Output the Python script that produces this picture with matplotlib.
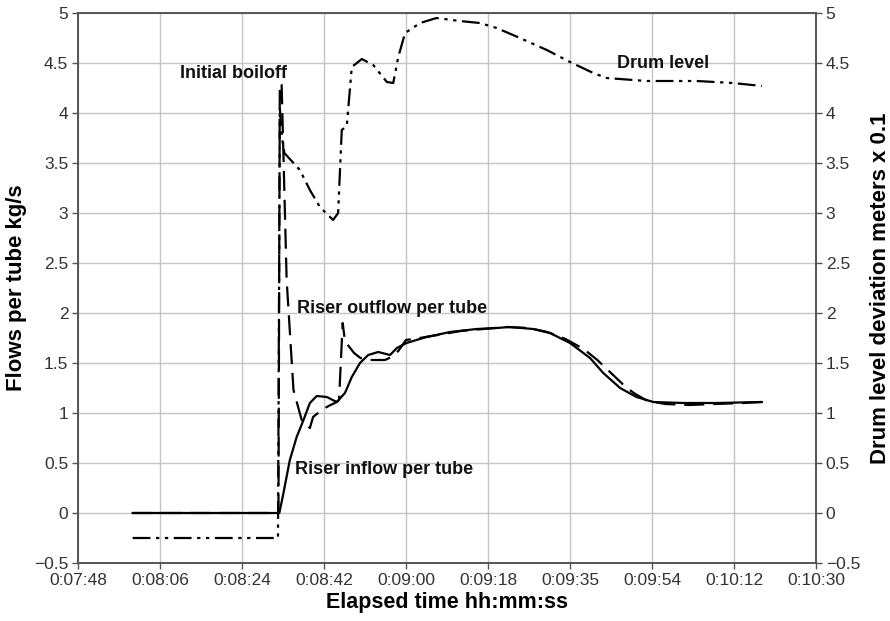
import matplotlib
matplotlib.use("Agg")
import matplotlib.pyplot as plt

plt.rcParams['font.family'] = ['Liberation Sans', 'DejaVu Sans']

# ---- data (elapsed time in seconds) ----
x_ticks = [468, 486, 504, 522, 540, 558, 576, 594, 612, 630]
x_tick_labels = ["0:07:48", "0:08:06", "0:08:24", "0:08:42", "0:09:00",
                 "0:09:18", "0:09:35", "0:09:54", "0:10:12", "0:10:30"]
y_ticks = [-0.5, 0, 0.5, 1, 1.5, 2, 2.5, 3, 3.5, 4, 4.5, 5]
y_tick_labels = ["\u22120.5", "0", "0.5", "1", "1.5", "2", "2.5", "3", "3.5", "4", "4.5", "5"]

inflow_t = [480, 512.2, 513.1, 514.5, 516.0, 517.5, 518.9, 520.4, 522.6, 524.8,
            526.6, 528.1, 529.9, 531.7, 533.9, 536.5, 538.0, 540.1, 544.5, 549.7,
            555.5, 559.9, 562.8, 567.9, 571.6, 576.0, 580.4, 583.3, 587.0, 590.6,
            594.3, 600.9, 608.2, 618.1]
inflow_v = [0, 0, 0.2, 0.53, 0.76, 0.93, 1.10, 1.17, 1.16, 1.11,
            1.20, 1.36, 1.50, 1.58, 1.61, 1.58, 1.65, 1.70, 1.76, 1.81,
            1.84, 1.85, 1.86, 1.84, 1.80, 1.70, 1.55, 1.40, 1.25, 1.16,
            1.11, 1.10, 1.10, 1.11]

outflow_t = [480, 512.0, 512.3, 512.7, 513.8, 515.3, 517.1, 518.9, 519.6, 521.5,
             523, 524.8, 525.3, 526.1, 526.6, 527.4, 528.6, 530.0, 531.7, 535.4,
             536.8, 538.3, 540.0, 543, 547, 552, 557, 562, 567, 571,
             575, 579, 582, 585, 588, 590, 593, 597, 602, 608, 614, 618]
outflow_v = [0, 0, 4.3, 4.28, 2.33, 1.23, 0.93, 0.85, 0.96, 1.03,
             1.07, 1.11, 1.13, 1.90, 1.72, 1.67, 1.60, 1.55, 1.53, 1.53,
             1.56, 1.62, 1.73, 1.75, 1.78, 1.82, 1.84, 1.86, 1.85, 1.81,
             1.74, 1.64, 1.53, 1.40, 1.27, 1.20, 1.12, 1.09, 1.08, 1.09, 1.10, 1.11]

drum_t = [480, 511.9, 512.3, 512.8, 513.3, 516.7, 518.9, 521.1, 524.0, 525.1,
          525.9, 527.0, 528.1, 530.3, 532.8, 535.8, 537.2, 538.3, 539.8, 543.1,
          546.7, 551.8, 556.2, 559.9, 565.0, 570.9, 576.0, 581.1, 584.0, 592.8,
          603.8, 611.8, 618.1]
drum_v = [-0.25, -0.25, 4.05, 3.75, 3.6, 3.43, 3.23, 3.06, 2.93, 3.0,
          3.83, 3.87, 4.46, 4.54, 4.48, 4.31, 4.30, 4.56, 4.8, 4.9,
          4.95, 4.92, 4.9, 4.85, 4.75, 4.63, 4.51, 4.40, 4.35, 4.32,
          4.32, 4.30, 4.27]

# ---- figure ----
fig = plt.figure(figsize=(8.9, 6.21), dpi=100)
ax = fig.add_axes([78/890, 1-563/621, (816-78)/890, (563-13)/621])
ax2 = ax.twinx()

spine_col = '#555555'
tick_col = '#333333'

ax.set_xlim(468, 630)
ax.set_ylim(-0.5, 5)
ax2.set_ylim(-0.5, 5)

ax.set_xticks(x_ticks)
ax.set_xticklabels(x_tick_labels)
ax.set_yticks(y_ticks)
ax.set_yticklabels(y_tick_labels)
ax2.set_yticks(y_ticks)
ax2.set_yticklabels(y_tick_labels)

ax.grid(True, color='#c4c4c4', linewidth=1.0)
ax.set_axisbelow(True)

for a in (ax, ax2):
    for s in a.spines.values():
        s.set_color(spine_col)
        s.set_linewidth(1.2)
    a.tick_params(axis='both', colors=spine_col, labelcolor=tick_col,
                  labelsize=12.5, length=4, width=1, direction='out', pad=3)

ax.plot(inflow_t, inflow_v, color='black', linewidth=1.6, linestyle='-', zorder=3)
ax.plot(outflow_t, outflow_v, color='black', linewidth=1.6,
        linestyle=(0, (9, 4)), zorder=3)
ax2.plot(drum_t, drum_v, color='black', linewidth=1.6,
         linestyle=(0, (8, 2.5, 1.5, 2.5, 1.5, 2.5)), zorder=3)

ax.set_xlabel("Elapsed time hh:mm:ss", fontsize=15.5, fontweight='bold', labelpad=3)
ax.set_ylabel("Flows per tube kg/s", fontsize=16, fontweight='bold', labelpad=5)
ax2.set_ylabel("Drum level deviation meters x 0.1", fontsize=16, fontweight='bold',
               rotation=90, labelpad=7)

tkw = dict(fontsize=13, fontweight='bold', color='#111111')
ax.text(513.9, 4.4, "Initial boiloff", ha='right', va='center', **tkw)
ax.text(586.3, 4.49, "Drum level", ha='left', va='center', **tkw)
ax.text(516.0, 2.05, "Riser outflow per tube", ha='left', va='center', **tkw)
ax.text(515.6, 0.43, "Riser inflow per tube", ha='left', va='center', **tkw)

fig.savefig("out.png", dpi=100)
